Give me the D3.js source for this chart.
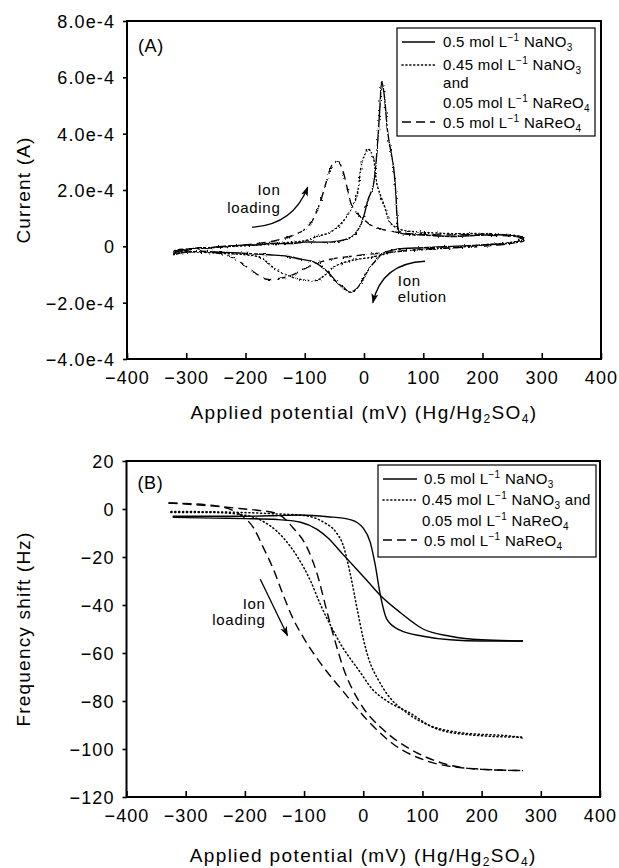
<!DOCTYPE html>
<html>
<head>
<meta charset="utf-8">
<script src="https://cdn.jsdelivr.net/npm/d3@7"></script>
<style>
  body { margin: 0; background: #fff; }
  svg { display: block; font-family: "Liberation Sans", Arial, Helvetica, sans-serif; }
  .tick text { font-size: 18px; letter-spacing: 1.1px; fill: #000; }
  .domain { display: none; }
</style>
</head>
<body>
<svg id="chart" width="619" height="868"></svg>
<script>
// x ticks shared by both panels (mV)
const potTicks = [-400, -300, -200, -100, 0, 100, 200, 300, 400]
const potLabels = ["\u2212400", "\u2212300", "\u2212200", "\u2212100", "0", "100", "200", "300", "400"]

// panel A y ticks (A)
const curTicks = [-4e-4, -2e-4, 0, 2e-4, 4e-4, 6e-4, 8e-4]
const curLabels = ["\u22124.0e-4", "\u22122.0e-4", "0", "2.0e-4", "4.0e-4", "6.0e-4", "8.0e-4"]

// panel B y ticks (Hz)
const freqTicks = [-120, -100, -80, -60, -40, -20, 0, 20]
const freqLabels = ["\u2212120", "\u2212100", "\u221280", "\u221260", "\u221240", "\u221220", "0", "20"]

// cyclic voltammograms: [mV, current in 1e-4 A], forward sweep then return sweep
const cvNitrate = [
  [-322, -0.3], [-310, -0.1], [-300, -0.15], [-280, -0.05], [-260, -0.05], [-240, 0.0], [-220, 0.02],
  [-200, 0.05], [-180, 0.05], [-160, 0.1], [-140, 0.1], [-120, 0.1], [-100, 0.15], [-80, 0.15],
  [-60, 0.15], [-40, 0.2], [-20, 0.35], [-7, 0.7], [0, 1.1], [7, 1.67], [15, 2.1], [22, 3.4],
  [27, 5.0], [30, 5.85], [34, 5.4], [40, 4.05], [46, 3.3], [50, 2.8], [54, 1.8], [56, 1.0],
  [60, 0.5], [80, 0.42], [100, 0.4], [150, 0.35], [200, 0.4], [240, 0.4], [265, 0.3], [270, 0.2],
  [250, 0.12], [200, 0.05], [150, 0.0], [100, -0.05], [56, -0.1], [32, -0.25], [20, -0.5],
  [10, -0.75], [0, -1.1], [-12, -1.5], [-24, -1.63], [-35, -1.45], [-45, -1.3], [-57, -1.0],
  [-70, -0.75], [-85, -0.55], [-108, -0.45], [-130, -0.35], [-160, -0.3], [-200, -0.25],
  [-250, -0.2], [-300, -0.2], [-322, -0.3]
]
const cvMixed = [
  [-320, -0.15], [-300, -0.1], [-260, -0.05], [-220, 0.0], [-180, 0.05], [-150, 0.1], [-120, 0.15],
  [-100, 0.2], [-79, 0.35], [-57, 0.5], [-35, 0.9], [-20, 1.4], [-12, 1.8], [-3, 3.0], [7, 3.45],
  [15, 3.2], [22, 2.2], [35, 1.4], [44, 0.85], [61, 0.6], [100, 0.5], [150, 0.45], [200, 0.45],
  [250, 0.4], [270, 0.3],
  [250, 0.15], [200, 0.05], [150, -0.05], [100, -0.12], [50, -0.2], [30, -0.3], [10, -0.4],
  [-12, -0.46], [-30, -0.55], [-52, -0.75], [-65, -1.0], [-79, -1.2], [-100, -1.2], [-120, -1.1],
  [-147, -0.85], [-175, -0.4], [-200, -0.3], [-240, -0.25], [-280, -0.2], [-320, -0.15]
]
const cvPerrhenate = [
  [-322, -0.2], [-300, -0.1], [-260, -0.05], [-230, 0.0], [-200, 0.05], [-150, 0.2], [-125, 0.35],
  [-100, 0.6], [-86, 0.96], [-74, 1.56], [-62, 2.4], [-52, 2.95], [-44, 3.02], [-35, 2.63],
  [-29, 2.13], [-20, 1.42], [-7, 1.07], [0, 0.95], [15, 0.71], [56, 0.5], [100, 0.42],
  [200, 0.4], [270, 0.3],
  [250, 0.12], [200, 0.0], [100, -0.1], [50, -0.2], [0, -0.3], [-24, -0.36], [-57, -0.46],
  [-91, -0.7], [-125, -1.05], [-153, -1.17], [-164, -1.17], [-180, -1.0], [-200, -0.7],
  [-221, -0.4], [-265, -0.18], [-300, -0.2], [-322, -0.2]
]

// frequency shift branches: [mV, Hz]
const fNitrateSharp = [
  [-322, -3.0], [-250, -3.0], [-200, -3.0], [-150, -2.8], [-106, -2.5], [-60, -3.2], [-22, -4.4],
  [0, -8], [12, -14], [20, -23], [29, -36], [40, -46], [62, -50.5], [101, -53], [147, -54.5],
  [200, -55], [270, -55]
]
const fNitrateSlow = [
  [-322, -3.5], [-250, -3.8], [-200, -4.0], [-145, -4.4], [-106, -5.5], [-78, -8.5], [-60, -12],
  [-34, -19], [7, -30], [29, -36], [62, -43], [101, -50], [147, -53], [200, -54.5], [270, -55]
]
const fMixedLeft = [
  [-325, -1.5], [-250, -1.5], [-210, -2.2], [-179, -4], [-135, -12], [-111, -20], [-89, -30],
  [-72, -40], [-50, -51], [-34, -58], [-20, -63], [-8, -67], [15, -75], [40, -80], [79, -85],
  [118, -91], [175, -94], [260, -95], [270, -95]
]
const fMixedRight = [
  [-325, -1], [-250, -1.2], [-200, -1.5], [-150, -2], [-101, -2.7], [-67, -5.5], [-45, -10],
  [-34, -15], [-22, -27], [-10, -42], [0, -54], [10, -63], [25, -71], [40, -77], [74, -85],
  [110, -90], [159, -93], [260, -95], [270, -95.5]
]
const fRheniumLeft = [
  [-329, 2.5], [-253, 1.5], [-207, -2.5], [-185, -8], [-169, -16], [-152, -25], [-135, -36],
  [-118, -46], [-100, -54], [-73, -64], [-34, -76], [7, -88], [51, -98], [108, -105],
  [175, -108], [270, -109]
]
const fRheniumRight = [
  [-329, 2.5], [-253, 1.2], [-200, 0], [-179, -0.5], [-145, -2], [-118, -8], [-95, -16],
  [-78, -27], [-61, -43], [-50, -53], [-34, -66], [-5, -81], [34, -92], [79, -100],
  [135, -106], [200, -108.5], [270, -109]
]

const styles = {
  solid: null,
  dotted: "1.1,2.8",
  dashed: "9,5"
}

const svg = d3.select("#chart")
const defs = svg.append("defs")

// slight jitter texture, the CV traces in the original are noisy
let rough = defs.append("filter").attr("id", "rough")
  .attr("x", "-5%").attr("y", "-5%").attr("width", "110%").attr("height", "110%")
rough.append("feTurbulence").attr("type", "fractalNoise").attr("baseFrequency", 0.45)
  .attr("numOctaves", 1).attr("seed", 3).attr("result", "noise")
rough.append("feDisplacementMap").attr("in", "SourceGraphic").attr("in2", "noise")
  .attr("scale", 3).attr("xChannelSelector", "R").attr("yChannelSelector", "G")

defs.append("marker")
  .attr("id", "head").attr("viewBox", "0 0 10 10").attr("refX", 9).attr("refY", 5)
  .attr("markerWidth", 10).attr("markerHeight", 10).attr("markerUnits", "userSpaceOnUse")
  .attr("orient", "auto")
  .append("path").attr("d", "M0,1.5 L10,5 L0,8.5 L2.5,5 Z").attr("fill", "#000")

function makePanel(opt) {
  let x = d3.scaleLinear().domain([-400, 400]).range([opt.left, opt.right])
  let y = d3.scaleLinear().domain(opt.yDomain).range([opt.bottom, opt.top])

  let g = svg.append("g")

  // x axis, ticks pointing into the plot
  g.append("g")
    .attr("transform", `translate(0, ${opt.bottom})`)
    .call(d3.axisBottom(x).tickValues(potTicks).tickFormat((d, i) => potLabels[i])
      .tickSizeInner(-6).tickSizeOuter(0).tickPadding(12))
    .call(a => a.selectAll("line").attr("stroke", "#000").attr("stroke-width", 1.6))

  // y axis, ticks pointing out
  g.append("g")
    .attr("transform", `translate(${opt.left}, 0)`)
    .call(d3.axisLeft(y).tickValues(opt.yTicks).tickFormat((d, i) => opt.yLabels[i])
      .tickSizeInner(4).tickSizeOuter(0).tickPadding(8))
    .call(a => a.selectAll("line").attr("stroke", "#000").attr("stroke-width", 1.6))
    .call(a => a.selectAll("text").attr("dy", "0.36em"))

  // frame
  g.append("rect")
    .attr("x", opt.left).attr("y", opt.top)
    .attr("width", opt.right - opt.left).attr("height", opt.bottom - opt.top)
    .attr("fill", "none").attr("stroke", "#000").attr("stroke-width", 2)

  let line = d3.line()
    .x(d => x(d[0]))
    .y(d => y(d[1] * opt.yMult))
    .curve(opt.curve)

  let lines = g.append("g")
  if (opt.rough) lines.attr("filter", "url(#rough)")
  opt.series.forEach(s => {
    lines.append("path")
      .datum(s.data)
      .attr("d", line)
      .attr("fill", "none")
      .attr("stroke", "#000")
      .attr("stroke-width", s.style == "dotted" ? 1.5 : 1.4)
      .attr("stroke-linecap", s.style == "dotted" ? "round" : "butt")
      .attr("stroke-dasharray", styles[s.style])
  })

  // panel letter
  g.append("text")
    .attr("x", opt.left + 11).attr("y", opt.labelY)
    .attr("font-size", 18).attr("letter-spacing", 0.6)
    .text(opt.label)

  // x title
  let xt = g.append("text")
    .attr("x", (opt.left + opt.right) / 2).attr("y", opt.xTitleY)
    .attr("text-anchor", "middle").attr("font-size", 19).attr("letter-spacing", 1.4)
  xt.append("tspan").text("Applied potential (mV) (Hg/Hg")
  xt.append("tspan").attr("font-size", 12).attr("dy", 4).text("2")
  xt.append("tspan").attr("dy", -4).text("SO")
  xt.append("tspan").attr("font-size", 12).attr("dy", 4).text("4")
  xt.append("tspan").attr("dy", -4).text(")")

  // y title
  g.append("text")
    .attr("transform", `translate(30, ${(opt.top + opt.bottom) / 2}) rotate(-90)`)
    .attr("text-anchor", "middle").attr("font-size", 19).attr("letter-spacing", 1.2)
    .text(opt.yTitle)

  return {g, x, y}
}

// text with superscripts / subscripts, offsets tracked so the baseline comes back
function legendText(g, xPos, yPos, parts) {
  let t = g.append("text").attr("x", xPos).attr("y", yPos).attr("font-size", 15).attr("letter-spacing", 0.3)
  let shift = 0
  parts.forEach(p => {
    let target = p[1] == "sup" ? -6 : (p[1] == "sub" ? 4 : 0)
    let span = t.append("tspan").attr("dy", target - shift).text(p[0])
    if (target != 0) span.attr("font-size", 10)
    shift = target
  })
}

// pieces of the legend labels
const nitrateLabel = [["0.5 mol L"], ["\u22121", "sup"], [" NaNO"], ["3", "sub"]]
const rheniumLabel = [["0.5 mol L"], ["\u22121", "sup"], [" NaReO"], ["4", "sub"]]
const mixedLabel1 = [["0.45 mol L"], ["\u22121", "sup"], [" NaNO"], ["3", "sub"]]
const mixedLabel2 = [["0.05 mol L"], ["\u22121", "sup"], [" NaReO"], ["4", "sub"]]

function sample(g, x1, x2, yPos, style) {
  g.append("line").attr("x1", x1).attr("x2", x2).attr("y1", yPos).attr("y2", yPos)
    .attr("stroke", "#000").attr("stroke-width", style == "dotted" ? 1.5 : 1.4)
    .attr("stroke-linecap", style == "dotted" ? "round" : "butt")
    .attr("stroke-dasharray", styles[style])
}

function note(g, xPos, yPos, txt, anchor) {
  g.append("text").attr("x", xPos).attr("y", yPos).attr("text-anchor", anchor || "start")
    .attr("font-size", 15).attr("letter-spacing", 0.7).text(txt)
}

// ---------- panel A ----------
let A = makePanel({
  left: 127, right: 601, top: 21, bottom: 359,
  yDomain: [-4e-4, 8e-4], yTicks: curTicks, yLabels: curLabels, yMult: 1e-4,
  curve: d3.curveCatmullRom.alpha(0.5), rough: true,
  series: [
    {data: cvNitrate, style: "solid"},
    {data: cvMixed, style: "dotted"},
    {data: cvPerrhenate, style: "dashed"}
  ],
  label: "(A)", labelY: 52, xTitleY: 419, yTitle: "Current (A)"
})

A.g.append("rect").attr("x", 397).attr("y", 28).attr("width", 198).attr("height", 108)
  .attr("fill", "#fff").attr("stroke", "#000").attr("stroke-width", 1.2)
sample(A.g, 402, 435, 42, "solid")
legendText(A.g, 443, 47, nitrateLabel)
sample(A.g, 402, 435, 65, "dotted")
legendText(A.g, 443, 70, mixedLabel1)
legendText(A.g, 443, 88, [["and"]])
legendText(A.g, 443, 108, mixedLabel2)
sample(A.g, 402, 435, 122, "dashed")
legendText(A.g, 443, 128, rheniumLabel)

// annotations A (placed in data units)
let loadPath = d3.path()
loadPath.moveTo(A.x(-189), A.y(0.68e-4))
loadPath.quadraticCurveTo(A.x(-120), A.y(0.76e-4), A.x(-95), A.y(2.1e-4))
A.g.append("path").attr("d", loadPath.toString()).attr("fill", "none")
  .attr("stroke", "#000").attr("stroke-width", 1.3).attr("marker-end", "url(#head)")
note(A.g, A.x(-141), A.y(1.84e-4), "Ion", "end")
note(A.g, A.x(-141), A.y(1.2e-4), "loading", "end")

let elutePath = d3.path()
elutePath.moveTo(A.x(103), A.y(-0.53e-4))
elutePath.quadraticCurveTo(A.x(30), A.y(-0.6e-4), A.x(15), A.y(-2.0e-4))
A.g.append("path").attr("d", elutePath.toString()).attr("fill", "none")
  .attr("stroke", "#000").attr("stroke-width", 1.3).attr("marker-end", "url(#head)")
note(A.g, A.x(57), A.y(-1.42e-4), "Ion")
note(A.g, A.x(57), A.y(-1.98e-4), "elution")

// ---------- panel B ----------
let B = makePanel({
  left: 126.5, right: 600, top: 461, bottom: 797,
  yDomain: [-120, 20], yTicks: freqTicks, yLabels: freqLabels, yMult: 1,
  curve: d3.curveMonotoneX, rough: false,
  series: [
    {data: fNitrateSharp, style: "solid"},
    {data: fNitrateSlow, style: "solid"},
    {data: fMixedLeft, style: "dotted"},
    {data: fMixedRight, style: "dotted"},
    {data: fRheniumLeft, style: "dashed"},
    {data: fRheniumRight, style: "dashed"}
  ],
  label: "(B)", labelY: 489, xTitleY: 862, yTitle: "Frequency shift (Hz)"
})

B.g.append("rect").attr("x", 378).attr("y", 465).attr("width", 218).attr("height", 92)
  .attr("fill", "#fff").attr("stroke", "#000").attr("stroke-width", 1.2)
sample(B.g, 383, 417, 479, "solid")
legendText(B.g, 424, 484, nitrateLabel)
sample(B.g, 383, 417, 500, "dotted")
legendText(B.g, 422, 505, mixedLabel1.concat([[" and"]]))
legendText(B.g, 422, 526, mixedLabel2)
sample(B.g, 383, 417, 540, "dashed")
legendText(B.g, 424, 546, rheniumLabel)

B.g.append("line")
  .attr("x1", B.x(-174)).attr("y1", B.y(-29.3))
  .attr("x2", B.x(-128)).attr("y2", B.y(-52.7))
  .attr("stroke", "#000").attr("stroke-width", 1.3).attr("marker-end", "url(#head)")
note(B.g, B.x(-165), B.y(-41.8), "Ion", "end")
note(B.g, B.x(-165), B.y(-48.5), "loading", "end")
</script>
</body>
</html>
